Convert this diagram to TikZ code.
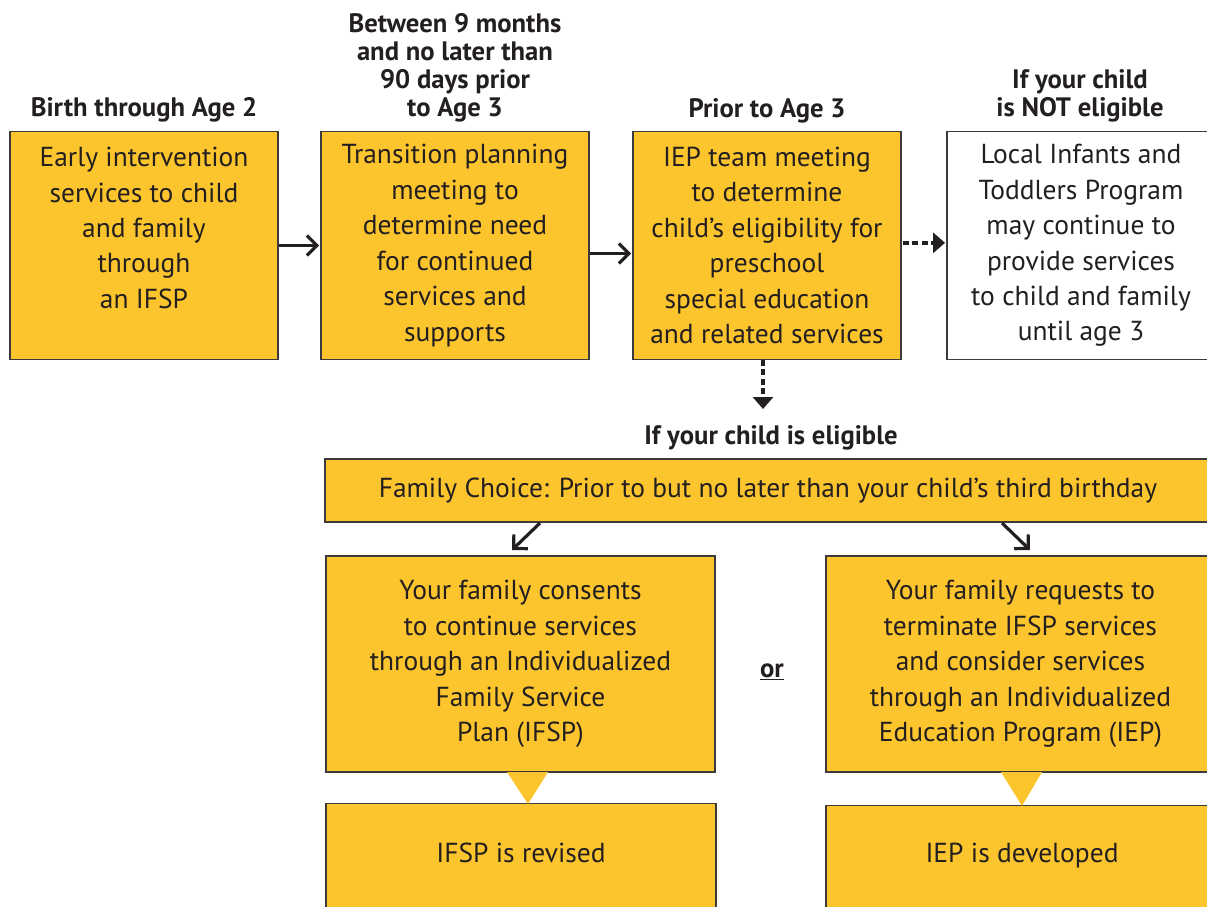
\documentclass[tikz,border=0pt]{standalone}
\usepackage{fontspec}
\setmainfont{PT Sans}
\usetikzlibrary{arrows.meta}

\definecolor{boxyellow}{HTML}{FDC52D}
\definecolor{ink}{HTML}{231F20}
\definecolor{edge}{HTML}{3C3A3A}

\begin{document}
\begin{tikzpicture}[x=0.75pt,y=-0.75pt,
  box/.style={draw=edge,line width=0.9pt,fill=boxyellow,text=ink,align=center,
    font=\fontsize{20.6}{26.6}\selectfont,inner sep=0pt},
  topbox/.style={box,minimum width=201pt,minimum height=171pt},
  midbox/.style={box,minimum width=291.75pt,minimum height=162pt},
  head/.style={text=ink,align=center,font=\fontsize{20}{21}\selectfont\bfseries,inner sep=0pt},
  arr/.style={ink,line width=2.4pt,-{Straight Barb[length=7.5pt,width=15pt,line width=2.4pt]}},
  dotarr/.style={ink,line width=3.2pt,dash pattern=on 4.5pt off 2.5pt,-{Triangle[length=9pt,width=15pt]}}]

\useasboundingbox (0,0) rectangle (1207,907);

% top row
\node[topbox] (early) at (144,245.5) {Early intervention\\services to child\\and family\\through\\an IFSP\\~};
\node[topbox] (plan) at (455,245.5) {Transition planning\\meeting to\\determine need\\for continued\\services and\\supports};
\node[topbox] (team) at (767,245.5) {IEP team meeting\\to determine\\child’s eligibility for\\preschool\\special education\\and related services};
\node[topbox,fill=white] (local) at (1081,245.5) {Local Infants and\\Toddlers Program\\may continue to\\provide services\\to child and family\\until age 3};

\node[head,anchor=south] (h1) at (144,122) {Birth through Age 2};
\node[head,anchor=south] (h2) at (455,122) {Between 9 months\\and no later than\\90 days prior\\to Age 3};
\node[head,anchor=south] (h3) at (767,123) {Prior to Age 3};
\node[head,anchor=south] (h4) at (1080,122) {If your child\\is NOT eligible};

\draw[arr] (early.east) -- ([xshift=-1pt]plan.west);
\draw[arr] ([yshift=-6pt]plan.east) -- ([yshift=-6pt,xshift=-1pt]team.west);
\draw[dotarr] ([yshift=2pt,xshift=1pt]team.east) -- ([yshift=2pt,xshift=-1pt]local.west);

% eligible branch
\node[head,anchor=base] (elig) at (771,444) {If your child is eligible};
\coordinate (down) at (763,409);
\draw[dotarr] ([xshift=-3pt]team.south) -- (down);

\node[box,minimum width=664.5pt,minimum height=47.25pt] (choice) at (768,490.5)
  {Family Choice: Prior to but no later than your child’s third birthday};

\node[midbox] (ifsp) at (520.5,664) {Your family consents\\to continue services\\through an Individualized\\Family Service\\Plan (IFSP)};
\node[midbox] (iep) at (1020.5,664) {Your family requests to\\terminate IFSP services\\and consider services\\through an Individualized\\Education Program (IEP)};
\node[head] (or) at (772,672) {\underline{or}};

\coordinate (l1) at (540,523);
\coordinate (l2) at (512,550);
\coordinate (r1) at (1002,523);
\coordinate (r2) at (1030,550);
\draw[arr] (l1) -- (l2);
\draw[arr] (r1) -- (r2);

% bottom row
\node[box,minimum width=292.5pt,minimum height=100pt,anchor=north] (revbox) at (521,803) {};
\node[box,minimum width=291.75pt,minimum height=100pt,anchor=north] (devbox) at (1020.5,805) {};
\node[text=ink,font=\fontsize{20.6}{26.6}\selectfont] (revised) at (521,853) {IFSP is revised};
\node[text=ink,font=\fontsize{20.6}{26.6}\selectfont] (developed) at (1022,856) {IEP is developed};

\fill[boxyellow] (507,772) -- (548,772) -- (528,804) -- cycle;
\fill[boxyellow] (1001,772) -- (1042,772) -- (1022,806) -- cycle;

\end{tikzpicture}
\end{document}
